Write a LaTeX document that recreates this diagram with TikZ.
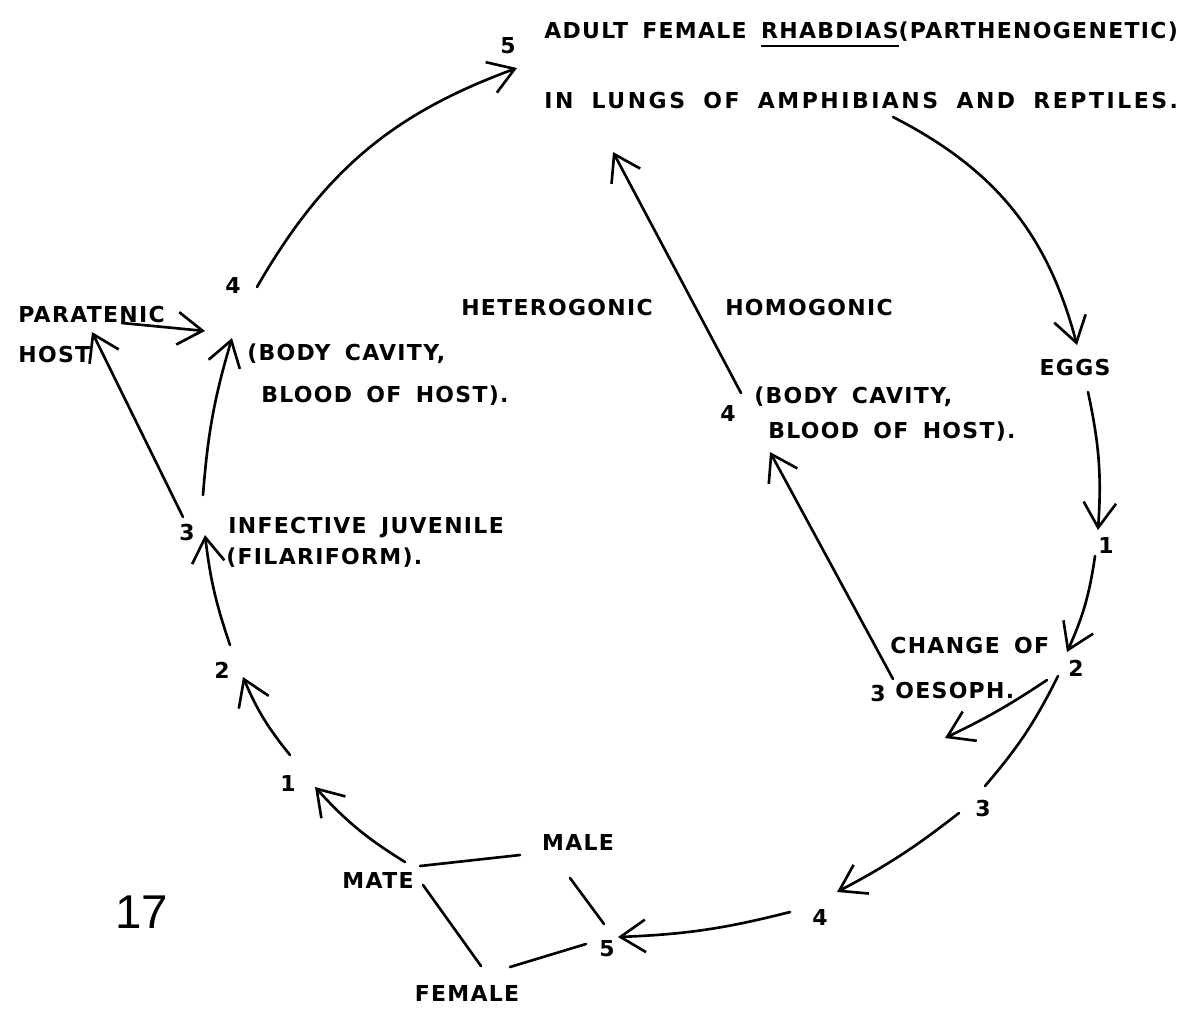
\documentclass[tikz,border=0pt]{standalone}
\usepackage{fontspec}
\setmainfont{Liberation Sans}
\newfontfamily\lblfont{DejaVu Sans Bold}[LetterSpace=6,WordSpace=1.6]
\newfontfamily\widefont{DejaVu Sans Bold}[LetterSpace=11.5,WordSpace=1.8]
\usetikzlibrary{arrows.meta,calc}

% underline drawn as a thick rule under a word
\newcommand\ulword[1]{\setbox0\hbox{#1}\rlap{\vrule width\wd0 height -3.8pt depth 5.3pt}\box0}

\begin{document}
\begin{tikzpicture}[
    x=0.02cm, y=-0.02cm,
    >={Straight Barb[length=5mm,width=6.5mm]},
    line join=round,
    line cap=round,
    line width=1.5pt,
    lbl/.style={inner sep=0pt, text height=9.1pt, text depth=0pt,
        font=\lblfont\fontsize{12.5}{15}\selectfont},
    txt/.style={lbl, anchor=west},
    wide/.style={font=\widefont\fontsize{12.5}{15}\selectfont}
]
\useasboundingbox (0,0) rectangle (1193,1015);

% ======================================
% adult stage
% ======================================
\node[lbl] (t5) at (508,46) {5};
\node[txt] (adult) at (543,30) {ADULT FEMALE \ulword{RHABDIAS}(PARTHENOGENETIC)};
\node[txt, wide] (lungs) at (543,100) {IN LUNGS OF AMPHIBIANS AND REPTILES.};

% ======================================
% right side: eggs and free-living larvae
% ======================================
\node[lbl] (eggs) at (1075,367) {EGGS};
\node[lbl] (r1) at (1106,545) {1};
\node[lbl] (r2) at (1076,668) {2};
\node[lbl] (r3) at (983,808) {3};
\node[lbl] (r4) at (820,917) {4};
\node[lbl] (b5) at (607,948) {5};

\draw[->] ($(lungs.west)+(350,17)$) to[bend left=24] ($(eggs)+(2,-22)$);
\draw[->] ($(eggs)+(13,25)$) to[bend left=8] ($(r1)+(-8,-15)$);
\draw[->] ($(r1)+(-11,11)$) to[bend left=8] ($(r2)+(-9,-16)$);
\coordinate (r2out) at (945,738);
\draw[->] ($(r2)+(-29,12)$) to[bend left=4] (r2out);
\draw ($(r2)+(-18,8)$) to[bend left=7] ($(r3)+(2,-22)$);
\draw[->] ($(r3)+(-24,5)$) to[bend left=5] ($(r4)+(17,-25)$);
\draw[->] ($(r4)+(-30,-5)$) to[bend left=6] ($(b5)+(11,-11)$);

% ======================================
% homogonic branch
% ======================================
\node[lbl] (hetero) at (557,307) {HETEROGONIC};
\node[lbl] (homo) at (809,307) {HOMOGONIC};
\node[lbl] (h4) at (728,413) {4};
\node[txt] (hbody) at (753,395) {(BODY CAVITY,};
\node[txt] (hblood) at (767,430) {BLOOD OF HOST).};
\node[txt] (change) at (889,645) {CHANGE OF};
\node[txt] (oesoph) at (894,690) {OESOPH.};
\node[lbl] (h3) at (878,693) {3};

\draw[->] ($(h3)+(15,-14)$) -- ($(hblood.west)+(3,22)$);
\draw[->] ($(h4)+(13,-20)$) -- ($(lungs.west)+(70,52)$);

% ======================================
% left side: heterogonic cycle
% ======================================
\node[lbl] (l4) at (233,285) {4};
\node[txt] (paratenic) at (17,314) {PARATENIC};
\node[txt] (host) at (17,354) {HOST};
\node[txt] (lbody) at (246,352) {(BODY CAVITY,};
\node[txt] (lblood) at (260,394) {BLOOD OF HOST).};
\node[lbl] (l3) at (187,532) {3};
\node[txt] (infective) at (227,525) {INFECTIVE JUVENILE};
\node[txt] (filariform) at (225,556) {(FILARIFORM).};
\node[lbl] (l2) at (222,670) {2};
\node[lbl] (l1) at (288,783) {1};
\node[lbl] (mate) at (378,880) {MATE};
\node[lbl] (male) at (578,842) {MALE};
\node[lbl] (female) at (467,993) {FEMALE};

\draw[->] ($(l4)+(24,2)$) to[bend left=20] ($(t5)+(9,22)$);
\draw[->] ($(mate)+(27,-18)$) to[bend left=8] ($(l1)+(27,4)$);
\draw[->] ($(l1)+(2,-28)$) to[bend left=8] ($(l2)+(21,7)$);
\draw[->] ($(l2)+(8,-25)$) to[bend left=6] ($(l3)+(18,3)$);
\draw[->] ($(l3)+(16,-37)$) to[bend left=6] ($(lbody.west)+(-14,-14)$);
\draw[->] ($(l3)+(-4,-15)$) -- ($(host.west)+(75,-22)$);
\draw[->] ($(paratenic.west)+(105,9)$) -- ($(lbody.west)+(-41,-21)$);

% mating
\draw ($(mate)+(42,-14)$) -- ($(male)+(-58,13)$);
\draw ($(mate)+(45,5)$) -- ($(female)+(14,-27)$);
\draw ($(male)+(-8,36)$) -- ($(b5)+(-3,-24)$);
\draw ($(female)+(43,-26)$) -- ($(b5)+(-21,-4)$);

% figure number
\node[inner sep=0pt, font=\fontsize{27}{30}\selectfont] (fig) at (142,912) {17};

\end{tikzpicture}
\end{document}
